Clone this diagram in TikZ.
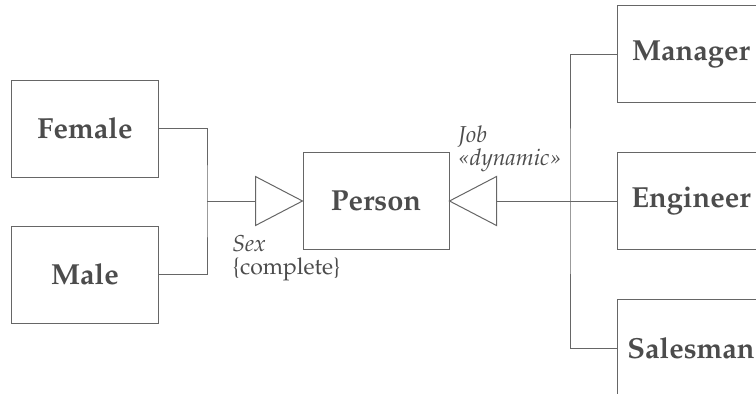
\documentclass[tikz,border=0pt]{standalone}
\usepackage[T1]{fontenc}
\usepackage{mathpazo}
\usetikzlibrary{positioning}

\def\tril{47}
\def\trih{24.5}

\begin{document}
\begin{tikzpicture}[
    x=0.5pt, y=-0.5pt,
    class/.style={rectangle,draw=black!60,line width=0.5pt,minimum width=73.5pt,
        minimum height=48.5pt,inner sep=0pt,text=black!70,
        font=\fontsize{14.5}{16}\selectfont\bfseries},
    link/.style={draw=black!60,line width=0.5pt},
    gen/.style={draw=black!60,line width=0.5pt,fill=white},
    role/.style={inner sep=0pt,align=left,text=black!70,
        font=\fontsize{11.5}{11.5}\selectfont},
]
\useasboundingbox (0,0) rectangle (756,393);

%% Left hierarchy: Sex
\node[class] (female) at (85,128.5) {Female};
\node[class,below=24pt of female] (male) {Male};
\node[class,minimum width=73pt] (person) at (376,201) {Person};

%% Right hierarchy: Job
\node[class] (engineer) at (691,201) {Engineer};
\node[class,above=24.5pt of engineer] (manager) {Manager};
\node[class,below=24.5pt of engineer] (salesman) {Salesman};

% Generalization triangles
\draw[gen] (person.west) -- ++(-\tril,\trih) -- ++(0,-2*\trih) -- cycle;
\path (person.west) ++(-\tril,0) coordinate (sexbase);
\draw[gen] (person.east) -- ++(\tril,\trih) -- ++(0,-2*\trih) -- cycle;
\path (person.east) ++(\tril,0) coordinate (jobbase);

% Connectors
\coordinate (sexjoin) at (207,201);
\draw[link] (female.east) -| (sexjoin) |- (male.east);
\draw[link] (sexjoin) -- (sexbase);

\coordinate (jobjoin) at (570,201);
\draw[link] (manager.west) -| (jobjoin) |- (salesman.west);
\draw[link] (jobbase) -- (engineer.west);

% Labels
\node[role,anchor=north west] (sexlabel) at (232,235) {\textit{Sex}\\\{complete\}};
\node[role,anchor=north west] (joblabel) at (458,125)
    {\textit{Job}\\\textit{\guillemotleft dynamic\guillemotright}};

\end{tikzpicture}
\end{document}
